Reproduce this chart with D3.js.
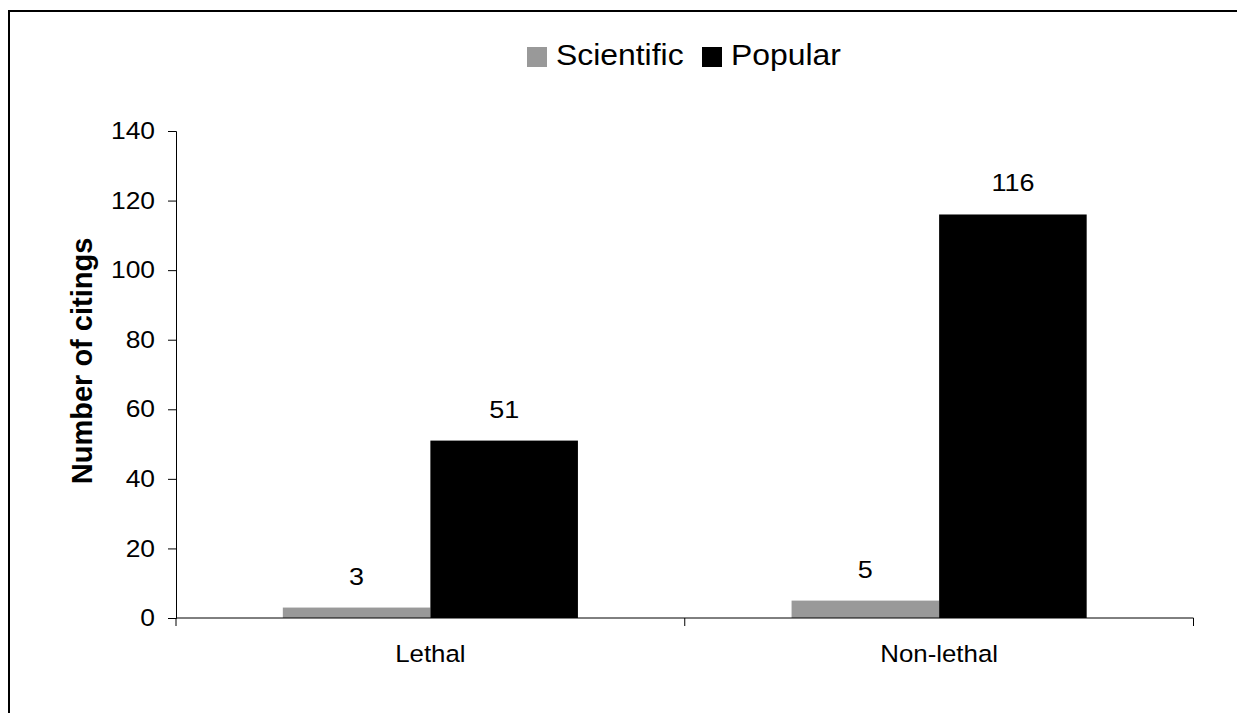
<!DOCTYPE html>
<html>
<head>
<meta charset="utf-8">
<script src="https://cdn.jsdelivr.net/npm/d3@7"></script>
<style>
  html, body { margin: 0; padding: 0; background: #fff; }
  svg { display: block; }
  text { font-family: Arial, "Liberation Sans", sans-serif; fill: #000; }
</style>
</head>
<body>
<svg id="chart" width="1237" height="713"></svg>
<script>
const categories = ["Lethal", "Non-lethal"];
const seriesNames = ["Scientific", "Popular"];
const scientific = [3, 5];
const popular = [51, 116];
const yTicks = [0, 20, 40, 60, 80, 100, 120, 140];
const colors = ["#999999", "#000000"];

const SX = 1.1; // slight horizontal stretch of the original picture's text

const svg = d3.select("#chart");

// outer frame
svg.append("rect").attr("x", 9).attr("y", 11).attr("width", 1300).attr("height", 800)
  .attr("fill", "none").attr("stroke", "#000").attr("stroke-width", 2);

const x0 = d3.scaleBand().domain(categories).range([176, 1193.5]).padding(0);
const x1 = d3.scaleBand().domain(seriesNames).range([0, x0.bandwidth()]).paddingInner(0).paddingOuter(0.724);
const y = d3.scaleLinear().domain([0, 140]).range([618, 131]);

const values = [scientific, popular];
const data = [];
categories.forEach((c, i) => seriesNames.forEach((s, j) => data.push({cat: c, ser: s, v: values[j][i], j})));

// bars
svg.append("g").selectAll("rect").data(data).join("rect")
  .attr("x", d => x0(d.cat) + x1(d.ser))
  .attr("y", d => y(d.v))
  .attr("width", x1.bandwidth())
  .attr("height", d => y(0) - y(d.v))
  .attr("fill", d => colors[d.j]);

// y axis
const yAxis = svg.append("g").attr("transform", "translate(176,0)")
  .call(d3.axisLeft(y).tickValues(yTicks).tickSize(8).tickPadding(13));
yAxis.select(".domain").attr("stroke", "#000");
yAxis.selectAll(".tick line").attr("stroke", "#000");
yAxis.selectAll("text")
  .attr("font-size", 24)
  .attr("font-family", "Arial, 'Liberation Sans', sans-serif")
  .attr("x", -21 / SX)
  .attr("transform", `scale(${SX},1)`);

// x axis line
const xAxisG = svg.append("g");
xAxisG.append("line").attr("x1", 176).attr("x2", 1193.5).attr("y1", y(0)).attr("y2", y(0)).attr("stroke", "#000");
const bounds = categories.map(c => x0(c)).concat([x0(categories[categories.length - 1]) + x0.bandwidth()]);
xAxisG.selectAll("line.tk").data(bounds).join("line").attr("class", "tk")
  .attr("x1", d => d).attr("x2", d => d).attr("y1", y(0)).attr("y2", y(0) + 8).attr("stroke", "#000");
xAxisG.selectAll("text").data(categories).join("text")
  .attr("transform", d => `translate(${x0(d) + x0.bandwidth() / 2},662) scale(${SX},1)`)
  .attr("text-anchor", "middle").attr("font-size", 23.5)
  .text(d => d);

// value labels
svg.append("g").selectAll("text").data(data).join("text")
  .attr("transform", d => `translate(${x0(d.cat) + x1(d.ser) + x1.bandwidth() / 2},${y(d.v) - 23}) scale(${SX},1)`)
  .attr("text-anchor", "middle").attr("font-size", 24.5)
  .text(d => d.v);

// y title
svg.append("text")
  .attr("transform", "translate(92,361) rotate(-90)")
  .attr("text-anchor", "middle").attr("font-size", 29).attr("font-weight", "bold")
  .text("Number of citings");

// legend
const legX = [527, 702];
const leg = svg.append("g").selectAll("g").data(seriesNames).join("g");
leg.append("rect").attr("x", (d, i) => legX[i]).attr("y", 47).attr("width", 20).attr("height", 20)
  .attr("fill", (d, i) => colors[i]);
leg.append("text")
  .attr("transform", (d, i) => `translate(${legX[i] + 29},65) scale(${SX},1)`)
  .attr("font-size", 29).text(d => d);
</script>
</body>
</html>
